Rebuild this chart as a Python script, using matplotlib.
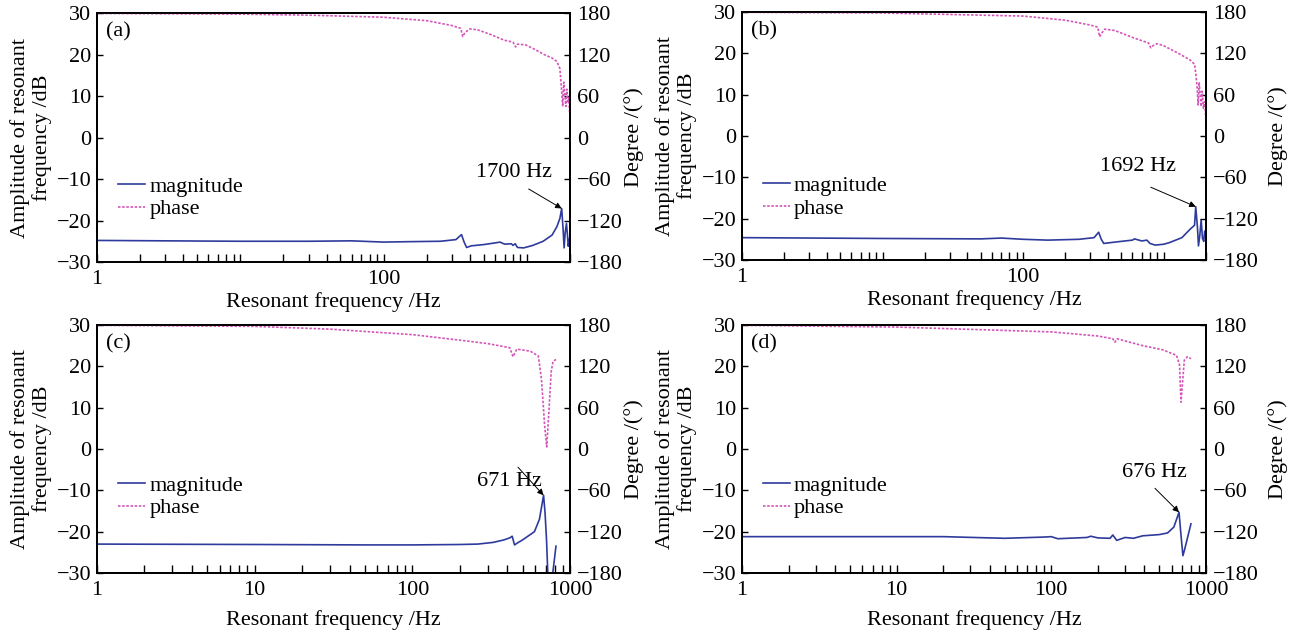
import matplotlib
matplotlib.use('Agg')
import matplotlib.pyplot as plt
from matplotlib.ticker import FixedLocator, LogLocator, NullFormatter
import numpy as np

plt.rcParams['font.family'] = ['Liberation Serif', 'DejaVu Serif']
plt.rcParams['font.size'] = 16

# (a) magnitude / phase
freqMagA = [1, 3, 10, 30, 60, 100, 150, 250, 320, 350, 365, 380, 410, 500, 600, 650, 700, 780, 800, 830, 860, 950,
            1100, 1300, 1500, 1620, 1700, 1750, 1790, 1820, 1850, 1890, 1920, 1945, 1970, 2000]
magA = [-24.8, -24.9, -25.0, -25.0, -24.9, -25.2, -25.1, -25.0, -24.6, -23.4, -25.2, -26.5, -26.1, -25.8, -25.4, -25.2,
        -25.7, -25.6, -26.0, -25.6, -26.5, -26.6, -26.0, -25.0, -23.5, -21.5, -19.5, -17.1, -22.0, -26.6, -23.0,
        -20.7, -23.5, -26.2, -25.0, -23.8]
freqPhA = [1, 10, 30, 100, 200, 300, 345, 357, 370, 400, 450, 560, 690, 800, 835, 860, 980, 1100, 1320, 1500, 1620,
           1700, 1740, 1780, 1810, 1840, 1870, 1900, 1930, 1960, 2000]
phA = [179.5, 178.5, 177, 174, 169, 162, 158, 146, 152, 157, 156, 149, 141, 138, 131, 135, 134, 129, 120, 115, 110,
       100, 74, 45, 80, 62, 45, 70, 50, 58, 28]

# (b)
freqMagB = [1, 10, 50, 70, 100, 150, 250, 320, 345, 360, 375, 420, 500, 600, 620, 700, 760, 800, 870, 1000, 1100,
            1350, 1550, 1660, 1692, 1740, 1770, 1810, 1850, 1890, 1930, 1960, 2000]
magB = [-24.6, -24.8, -24.9, -24.7, -25.0, -25.2, -25.0, -24.6, -23.3, -25.0, -26.0, -25.8, -25.5, -25.2, -24.9,
        -25.4, -25.2, -26.0, -26.4, -26.2, -25.8, -24.6, -22.5, -21.6, -17.1, -22.0, -26.6, -24.0, -20.3, -24.8,
        -25.5, -23.0, -24.0]
freqPhB = [1, 10, 100, 200, 300, 340, 350, 365, 380, 450, 600, 780, 810, 840, 900, 1000, 1300, 1550, 1660, 1700,
           1730, 1760, 1790, 1820, 1850, 1880, 1920, 1960, 2000]
phB = [179.5, 178.5, 174, 168, 161, 158, 144, 150, 155, 153, 143, 135, 128, 131, 134, 131, 119, 110, 104, 88, 71,
       45, 78, 60, 43, 65, 40, 50, 22]

# (c)
freqMagC = [1, 10, 50, 100, 200, 260, 325, 380, 415, 430, 445, 470, 500, 595, 640, 680, 695, 710, 725, 745, 765,
            780, 815]
magC = [-23.0, -23.1, -23.2, -23.2, -23.1, -23.0, -22.6, -22.0, -21.5, -21.1, -23.2, -22.6, -22.0, -20.0, -17.0,
        -11.2, -15.5, -22.0, -31.0, -38.0, -34.0, -29.6, -23.5]
freqPhC = [1, 10, 30, 100, 200, 300, 415, 435, 460, 560, 630, 660, 690, 712, 733, 760, 780, 815]
phC = [179.5, 178, 174, 166, 158, 153, 147, 134, 145, 142, 135, 100, 35, 3, 50, 112, 127, 130]

# (d)
freqMagD = [1, 10, 20, 50, 90, 100, 110, 170, 180, 200, 240, 250, 265, 300, 340, 390, 500, 565, 620, 670, 690, 710,
            725, 800]
magD = [-21.2, -21.2, -21.2, -21.6, -21.3, -21.2, -21.7, -21.4, -21.1, -21.5, -21.6, -20.8, -22.1, -21.4, -21.6,
        -21.0, -20.7, -20.3, -18.9, -15.3, -20.9, -25.8, -24.6, -18.1]
freqPhD = [1, 10, 100, 200, 250, 258, 266, 390, 525, 645, 675, 690, 705, 725, 760, 800]
phD = [179.5, 177, 170, 164, 160, 155, 160, 150, 144, 136, 122, 68, 95, 129, 134, 131]

tags = ['(a)', '(b)', '(c)', '(d)']
notes = ['1700 Hz', '1692 Hz', '671 Hz', '676 Hz']

magColor = '#2f3b9c'
phColor = '#d455b8'

fig = plt.figure(figsize=(12.96, 6.35), dpi=100)


def drawPanel(rect, fMag, mag, fPh, ph, xMax, xTicks, xLabels, tag, note, textXY, arrowFrom, legTop, xPad, rPad):
    ax = fig.add_axes(rect)
    ax2 = ax.twinx()
    l1, = ax.plot(fMag, mag, color=magColor, lw=1.2, label='magnitude')
    l2, = ax2.plot(fPh, ph, color=phColor, lw=1.2, ls=(0, (1.5, 1)), label='phase')
    ax.set_xscale('log')
    ax.set_xlim(1, xMax)
    ax.set_ylim(-30, 30)
    ax2.set_ylim(-180, 180)
    ax.set_yticks(range(-30, 31, 10))
    ax2.set_yticks(range(-180, 181, 60))
    ax.xaxis.set_major_locator(FixedLocator(xTicks))
    ax.set_xticklabels(xLabels)
    ax.xaxis.set_minor_locator(LogLocator(base=10, subs=range(2, 10)))
    ax.xaxis.set_minor_formatter(NullFormatter())
    ax.tick_params(axis='x', which='both', direction='in', length=6, width=1, pad=6)
    ax.tick_params(axis='y', direction='in', length=4, width=1, pad=4)
    ax2.tick_params(axis='y', direction='in', length=4, width=1, pad=5)
    for a in (ax, ax2):
        for s in a.spines.values():
            s.set_linewidth(1.3)
    ax.set_xlabel('Resonant frequency /Hz', labelpad=xPad)
    ax.set_ylabel('Amplitude of resonant\nfrequency /dB', labelpad=3, linespacing=1.15)
    ax2.set_ylabel('Degree /(°)', labelpad=rPad)
    ax.text(0.02, 0.925, tag, transform=ax.transAxes, ha='left', va='center')

    # resonance peak
    i = int(np.argmax(mag))
    ax.annotate('', xy=(fMag[i], mag[i]), xytext=arrowFrom,
                arrowprops=dict(arrowstyle='-|>', color='k', lw=0.7, mutation_scale=9, shrinkA=0, shrinkB=0))
    ax.text(textXY[0], textXY[1], note, ha='center', va='center')

    ax2.legend([l1, l2], ['magnitude', 'phase'], loc='upper left', bbox_to_anchor=(0.045, legTop),
               frameon=False, borderpad=0, borderaxespad=0, handlelength=1.2, handletextpad=0.2,
               labelspacing=0.1)
    return ax


drawPanel([0.0748, 0.5874, 0.365, 0.392], freqMagA, magA, freqPhA, phA, 2000, [1, 10, 100, 1000],
          ['1', '', '100', ''], tags[0], notes[0], (813, -8.5), (1030, -12.4), 0.345, 2, 1)
drawPanel([0.5725, 0.5906, 0.358, 0.3906], freqMagB, magB, freqPhB, phB, 2000, [1, 10, 100, 1000],
          ['1', '', '100', ''], tags[1], notes[1], (655, -7.3), (810, -12.4), 0.34, 2, 7)
drawPanel([0.0748, 0.0976, 0.365, 0.3906], freqMagC, magC, freqPhC, phC, 1000, [1, 10, 100, 1000],
          ['1', '10', '100', '1000'], tags[2], notes[2], (415, -7.8), (468, -4.4), 0.395, 7, 1)
drawPanel([0.5725, 0.0976, 0.358, 0.3906], freqMagD, magD, freqPhD, phD, 1000, [1, 10, 100, 1000],
          ['1', '10', '100', '1000'], tags[3], notes[3], (468, -5.6), (468, -9.5), 0.395, 7, 7)

fig.savefig('out.png', dpi=100)
